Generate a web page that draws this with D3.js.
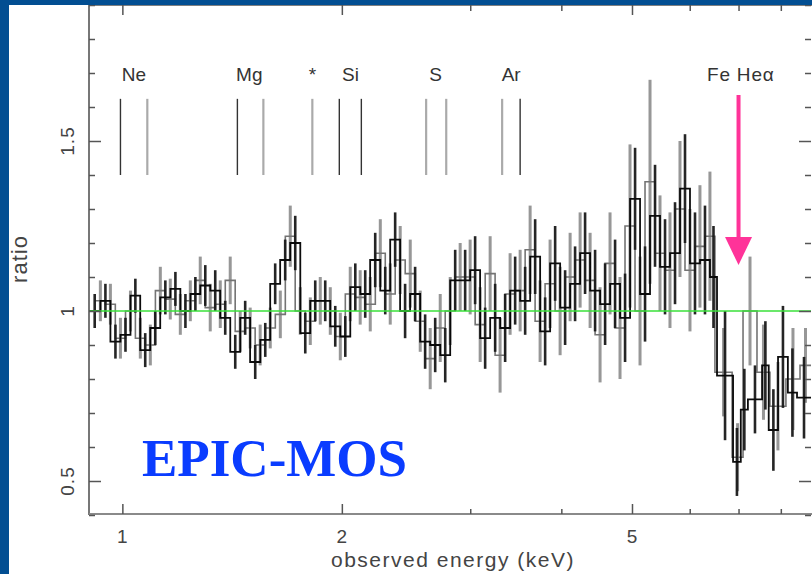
<!DOCTYPE html>
<html><head><meta charset="utf-8">
<script src="https://cdn.jsdelivr.net/npm/d3@7"></script>
<style>html,body{margin:0;padding:0;background:#fff;overflow:hidden}</style>
</head><body><svg id="c" width="812" height="574"></svg>
<script>
// ---- data: series A (black) ----
const aEdges=[0.9,0.933,0.963,0.994,1.026,1.058,1.092,1.127,1.164,1.201,1.240,1.279,1.320,1.362,1.406,1.451,1.497,1.546,1.595,1.646,1.699,1.754,1.810,1.868,1.928,1.990,2.054,2.120,2.187,2.258,2.330,2.404,2.481,2.561,2.643,2.729,2.816,2.906,2.999,3.095,3.195,3.297,3.403,3.512,3.625,3.741,3.861,3.985,4.112,4.244,4.380,4.521,4.666,4.815,4.970,5.129,5.293,5.463,5.638,5.819,6.005,6.198,6.396,6.54,6.88,7.05,7.21,7.54,7.70,7.93,8.18,8.42,8.8];
const aRatio=[1.0,1.03,0.91,0.93,1.045,0.885,0.95,1.04,1.065,1.0,
1.05,1.075,1.06,0.98,0.88,0.98,0.85,0.915,1.08,1.15,
1.2,0.935,1.03,1.03,0.955,0.925,1.07,1.05,1.15,1.06,
1.21,1.0,1.05,0.91,0.9,0.87,1.09,1.09,1.12,0.92,
0.98,0.95,1.06,1.03,1.16,0.94,1.14,1.01,1.08,1.17,
1.06,1.02,1.08,0.98,1.33,1.05,1.28,1.13,1.17,1.36,
1.14,1.15,1.1,
0.81,0.556,0.71,0.74,0.84,0.65,0.865,0.76,0.745];
const aErr=[0.05,0.05,0.05,0.05,0.05,0.05,0.05,0.05,0.05,0.05,
0.05,0.06,0.06,0.05,0.05,0.05,0.05,0.05,0.06,0.06,
0.08,0.06,0.06,0.06,0.06,0.06,0.07,0.07,0.08,0.07,
0.08,0.08,0.08,0.08,0.08,0.08,0.09,0.09,0.1,0.09,
0.1,0.1,0.1,0.1,0.11,0.1,0.11,0.11,0.11,0.12,
0.12,0.12,0.13,0.13,0.15,0.14,0.15,0.14,0.15,0.16,
0.15,0.16,0.15,
0.19,0.1,0.12,0.1,0.13,0.12,0.15,0.13,0.12];
// ---- data: series B (grey) ----
const bEdges=[0.918,0.948,0.978,1.010,1.042,1.075,1.110,1.145,1.182,1.220,1.259,1.299,1.341,1.384,1.428,1.474,1.521,1.570,1.621,1.673,1.726,1.782,1.839,1.898,1.959,2.022,2.086,2.153,2.223,2.294,2.367,2.443,2.522,2.602,2.686,2.772,2.861,2.952,3.047,3.145,3.245,3.349,3.457,3.568,3.682,3.800,3.922,4.048,4.178,4.312,4.450,4.592,4.739,4.891,5.048,5.210,5.377,5.549,5.727,5.911,6.100,6.295,6.497,6.86,7.10,7.42,7.73,8.13,8.50,8.8];
const bRatio=[1.03,1.02,0.92,1.0,0.92,0.9,1.06,1.035,0.99,1.03,
1.09,1.01,1.02,1.09,0.94,0.95,0.9,0.95,0.99,1.22,
1.0,0.97,1.03,1.0,0.925,1.05,1.04,1.02,1.17,1.05,
1.15,1.11,0.97,0.86,0.95,1.0,1.1,1.1,0.96,1.11,
0.87,1.05,1.06,1.18,0.97,1.08,1.0,1.1,1.15,1.09,
0.93,1.14,0.95,1.25,1.0,1.38,1.17,1.12,1.3,1.12,
1.19,1.22,
0.82,0.57,1.0,0.82,0.72,0.8,0.84];
const bErr=[0.06,0.06,0.06,0.06,0.06,0.06,0.07,0.06,0.06,0.06,
0.07,0.07,0.07,0.07,0.06,0.06,0.06,0.06,0.07,0.09,
0.07,0.07,0.07,0.07,0.07,0.08,0.08,0.08,0.1,0.09,
0.1,0.1,0.09,0.09,0.1,0.1,0.1,0.11,0.11,0.11,
0.11,0.12,0.12,0.13,0.12,0.13,0.13,0.13,0.14,0.14,
0.14,0.15,0.15,0.24,0.16,0.3,0.17,0.17,0.2,0.18,
0.18,0.19,
0.13,0.1,0.16,0.14,0.13,0.15,0.11];
// ---- emission line markers ----
const lineEnergies=[0.994,1.082,1.438,1.561,1.822,1.984,2.127,2.610,2.781,3.318,3.512];
const lineDark=[true,false,true,false,false,true,true,false,false,false,true];
const lineRange=[1.4,1.624];
const labelNames=["Ne","Mg","*","Si","S","Ar","Fe He\u03b1"];
const labelEnergies=[1.037,1.493,1.822,2.055,2.69,3.414,7.05];
const arrowEnergy=7.0, arrowTop=1.635, arrowBase=1.218, arrowTip=1.135;
// ---- axes ----
const xDomain=[0.9,8.8], yDomain=[0.4,1.9];
const xMajor=[1,2,5], xMinor=[3,4,6,7,8];
const yMajor=[0.5,1,1.5];
const yMinor=[0.4,0.6,0.7,0.8,0.9,1.1,1.2,1.3,1.4,1.6,1.7,1.8,1.9];

const svg=d3.select("#c");
const L=89,R=811,T=5,B=515;
const x=d3.scaleLog().domain(xDomain).range([L,R]);
const y=d3.scaleLinear().domain(yDomain).range([B,T]);
svg.append("rect").attr("width",812).attr("height",574).attr("fill","#fff");

const font='"Liberation Sans", Arial, Helvetica, sans-serif';

function drawSeries(edges,vals,errs,stepCol,stepW,barCol,barW,op){
  const g=svg.append("g").attr("opacity",op);
  const pts=[];
  vals.forEach((v,i)=>{pts.push([edges[i],v]);pts.push([edges[i+1],v]);});
  g.selectAll("line.eb").data(vals).enter().append("line")
   .attr("x1",(v,i)=>x(Math.sqrt(edges[i]*edges[i+1]))).attr("x2",(v,i)=>x(Math.sqrt(edges[i]*edges[i+1])))
   .attr("y1",(v,i)=>y(v-errs[i])).attr("y2",(v,i)=>y(v+errs[i]))
   .attr("stroke",barCol).attr("stroke-width",barW);
  g.append("path").attr("d",d3.line().x(d=>x(d[0])).y(d=>y(d[1]))(pts))
   .attr("fill","none").attr("stroke",stepCol).attr("stroke-width",stepW);
}
drawSeries(bEdges,bRatio,bErr,"#666",1.6,"#8c8c8c",3,0.9);
drawSeries(aEdges,aRatio,aErr,"#000",1.8,"#1a1a1a",2.6,0.95);

// green unity line
svg.append("line").attr("x1",L).attr("x2",R).attr("y1",y(1)).attr("y2",y(1))
  .attr("stroke","#3ae03a").attr("stroke-width",1.6);

// emission line markers
svg.selectAll("line.mk").data(lineEnergies).enter().append("line")
  .attr("x1",d=>x(d)).attr("x2",d=>x(d)).attr("y1",y(lineRange[0])).attr("y2",y(lineRange[1]))
  .attr("stroke",(d,i)=>lineDark[i]?"#333":"#aaa").attr("stroke-width",(d,i)=>lineDark[i]?1.4:2.2);
svg.selectAll("text.lb").data(labelNames).enter().append("text")
  .attr("x",(d,i)=>x(labelEnergies[i])).attr("y",81).attr("text-anchor","middle")
  .attr("font-family",font).attr("font-size",19).attr("letter-spacing",(d,i)=>i===6?0.8:0).attr("fill","#333").text(d=>d);

// arrow
const ax=x(arrowEnergy);
svg.append("line").attr("x1",ax).attr("x2",ax).attr("y1",y(arrowTop)).attr("y2",y(arrowBase)+1)
  .attr("stroke","#ff3399").attr("stroke-width",4);
svg.append("path").attr("d",`M${ax-13.5},${y(arrowBase)}L${ax+13.5},${y(arrowBase)}L${ax},${y(arrowTip)}Z`)
  .attr("fill","#ff3399");

// axes
const axCol="#555";
svg.append("line").attr("x1",L).attr("x2",L).attr("y1",T).attr("y2",B).attr("stroke",axCol).attr("stroke-width",1.6);
svg.append("line").attr("x1",L).attr("x2",R+2).attr("y1",B-1).attr("y2",B-1).attr("stroke","#8a8a8a").attr("stroke-width",2);
svg.append("line").attr("x1",L).attr("x2",R+2).attr("y1",T).attr("y2",T).attr("stroke",axCol).attr("stroke-width",1.6);
function ticks(sel,axis){sel.call(axis);sel.select(".domain").remove();sel.selectAll("line").attr("stroke",axCol).attr("stroke-width",1.5);}
ticks(svg.append("g").attr("transform",`translate(${L},0)`),d3.axisLeft(y).tickValues(yMajor).tickSize(-12).tickFormat(""));
ticks(svg.append("g").attr("transform",`translate(${L},0)`),d3.axisLeft(y).tickValues(yMinor).tickSize(-6).tickFormat(""));
ticks(svg.append("g").attr("transform",`translate(${R},0)`),d3.axisRight(y).tickValues(yMajor).tickSize(-12).tickFormat(""));
ticks(svg.append("g").attr("transform",`translate(${R},0)`),d3.axisRight(y).tickValues(yMinor).tickSize(-6).tickFormat(""));
ticks(svg.append("g").attr("transform",`translate(0,${B-1})`),d3.axisBottom(x).tickValues(xMajor).tickSize(-10).tickFormat(""));
ticks(svg.append("g").attr("transform",`translate(0,${B-1})`),d3.axisBottom(x).tickValues(xMinor).tickSize(-5).tickFormat(""));
ticks(svg.append("g").attr("transform",`translate(0,${T})`),d3.axisTop(x).tickValues(xMajor).tickSize(-10).tickFormat(""));
ticks(svg.append("g").attr("transform",`translate(0,${T})`),d3.axisTop(x).tickValues(xMinor).tickSize(-6).tickFormat(""));

// tick labels
svg.selectAll("text.xt").data(xMajor).enter().append("text")
  .attr("x",d=>x(d)).attr("y",543).attr("text-anchor","middle")
  .attr("font-family",font).attr("font-size",19).attr("fill","#444").text(d=>d);
svg.selectAll("text.yt").data(yMajor).enter().append("text")
  .attr("transform",d=>`translate(74,${y(d)}) rotate(-90)`).attr("text-anchor","middle")
  .attr("font-family",font).attr("font-size",19).attr("letter-spacing",1).attr("fill","#444").text(d=>String(d));
svg.append("text").attr("transform","translate(27,259) rotate(-90)").attr("text-anchor","middle")
  .attr("font-family",font).attr("font-size",22).attr("letter-spacing",1).attr("fill","#444").text("ratio");
svg.append("text").attr("x",453).attr("y",567).attr("text-anchor","middle")
  .attr("font-family",font).attr("font-size",21).attr("letter-spacing",1.5).attr("fill","#444").text("observed energy (keV)");

// EPIC-MOS
svg.append("text").attr("x",142).attr("y",476)
  .attr("font-family",'"Liberation Serif","Times New Roman",serif').attr("font-weight","bold")
  .attr("font-size",53).attr("fill","#0a3cff").text("EPIC-MOS");

// blue frame
svg.append("rect").attr("x",0).attr("y",0).attr("width",812).attr("height",5).attr("fill","#024e92");
svg.append("rect").attr("x",0).attr("y",0).attr("width",9).attr("height",574).attr("fill","#024e92");
</script></body></html>
